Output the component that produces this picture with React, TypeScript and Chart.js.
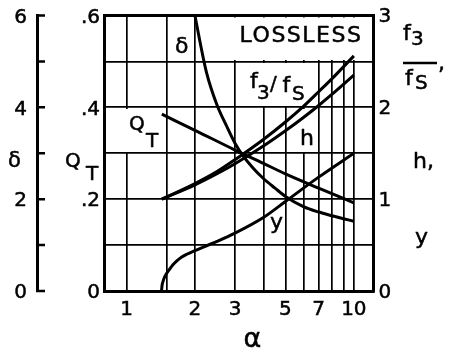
import React, { useEffect, useRef } from "react";
import { Chart, registerables } from "chart.js";

Chart.register(...registerables);

// α grid positions (log axis) and which of them carry a number
const ALPHA_GRID = [1, 1.5, 2, 3, 4, 5, 6, 7, 8, 9, 10];
const ALPHA_LABELS = [1, 2, 3, 5, 7, 10];

// f3/fS versus α (right axis)
const F3_ALPHA = [1.43, 2, 2.5, 3, 4, 5, 6, 7, 8, 10];
const F3_FS = [1.0, 1.17, 1.3, 1.43, 1.65, 1.84, 2.01, 2.17, 2.31, 2.56];

// h versus α (right axis)
const H_ALPHA = [1.43, 2, 2.5, 3, 4, 5, 6, 7, 8, 10];
const H = [1.0, 1.156, 1.277, 1.386, 1.579, 1.745, 1.89, 2.02, 2.14, 2.35];

// y versus α (right axis)
const Y_ALPHA = [1.425, 1.435, 1.45, 1.47, 1.5, 1.55, 1.6, 1.66, 1.75, 1.84, 2, 2.5, 3, 4, 5, 7, 10];
const Y = [0, 0.07, 0.11, 0.15, 0.19, 0.24, 0.285, 0.325, 0.37, 0.4, 0.44, 0.54, 0.63, 0.8, 0.975, 1.24, 1.5];

// Q_T versus α (inner left axis)
const QT_ALPHA = [1.43, 2, 3, 4, 5, 7, 10];
const QT = [0.385, 0.35, 0.307, 0.278, 0.255, 0.224, 0.192];

// δ versus α (outer left axis)
const DELTA_ALPHA = [2.0, 2.1, 2.25, 2.5, 2.75, 3.0, 3.25, 3.6, 4.0, 4.5, 5.0, 6.0, 7.0, 8.0, 9.0, 10];
const DELTA = [6.0, 5.45, 4.75, 4.05, 3.6, 3.22, 2.95, 2.68, 2.45, 2.24, 2.06, 1.84, 1.72, 1.64, 1.575, 1.52];

const FONT = '"DejaVu Sans", sans-serif';
const TEXT_STROKE = 0.5;

const pts = (xs: number[], ys: number[]) => xs.map((x, i) => ({ x, y: ys[i] }));

function put(
  ctx: CanvasRenderingContext2D,
  s: string,
  x: number,
  y: number,
  size: number,
  align: CanvasTextAlign = "left",
  baseline: CanvasTextBaseline = "alphabetic",
  spacing = 0
) {
  ctx.save();
  ctx.font = `${size}px ${FONT}`;
  ctx.fillStyle = "#000";
  ctx.strokeStyle = "#000";
  ctx.lineWidth = TEXT_STROKE;
  ctx.lineJoin = "round";
  ctx.textAlign = align;
  ctx.textBaseline = baseline;
  if (spacing) (ctx as any).letterSpacing = `${spacing}px`;
  ctx.strokeText(s, x, y);
  ctx.fillText(s, x, y);
  ctx.restore();
}

const decor = {
  id: "decor",
  beforeDatasetsDraw(chart: any) {
    // white panels behind the in-plot labels hide the grid there
    const ctx: CanvasRenderingContext2D = chart.ctx;
    ctx.save();
    ctx.fillStyle = "#fff";
    ctx.fillRect(197, 17.5, 174.5, 42.5);
    ctx.fillRect(240, 63, 74, 43);
    ctx.fillRect(296, 109, 18, 43);
    ctx.fillRect(120, 109, 40, 43);
    ctx.restore();
  },
  afterDraw(chart: any) {
    const ctx: CanvasRenderingContext2D = chart.ctx;
    const yD = chart.scales.yD;

    // inward tick marks of the δ axis
    ctx.save();
    ctx.strokeStyle = "#000";
    ctx.lineWidth = 2.5;
    ctx.beginPath();
    for (const t of yD.ticks) {
      const py = yD.getPixelForValue(t.value);
      ctx.moveTo(yD.right - 1, py);
      ctx.lineTo(yD.right + 8, py);
    }
    ctx.stroke();
    ctx.restore();

    // axis titles on the left
    put(ctx, "δ", 8, 167, 21);
    put(ctx, "Q", 65, 167, 20);
    put(ctx, "T", 86, 180, 20);

    // α under the x axis
    put(ctx, "α", 252.5, 346.5, 27, "center");

    // right-hand title: f3/fS , h , y
    put(ctx, "f", 403, 40, 22);
    put(ctx, "3", 411, 45, 20);
    ctx.save();
    ctx.strokeStyle = "#000";
    ctx.lineWidth = 2.5;
    ctx.beginPath();
    ctx.moveTo(403, 63);
    ctx.lineTo(437, 63);
    ctx.stroke();
    ctx.restore();
    put(ctx, "f", 405, 84.5, 22);
    put(ctx, "S", 415, 89, 20);
    put(ctx, ",", 438, 70, 22);
    put(ctx, "h,", 413, 168, 22);
    put(ctx, "y", 415, 244, 22);

    // in-plot labels
    put(ctx, "LOSSLESS", 301, 36, 22, "center", "middle", 1.5);
    put(ctx, "δ", 181.7, 53.3, 22, "center");
    put(ctx, "Q", 129, 129.5, 20);
    put(ctx, "T", 146, 147, 20);
    put(ctx, "f", 250, 88, 22);
    put(ctx, "3", 257, 98.5, 20);
    put(ctx, "/", 270, 90, 20);
    put(ctx, "f", 282.5, 91.5, 22);
    put(ctx, "S", 292, 100, 20);
    put(ctx, "h", 300, 145, 22);
    put(ctx, "y", 270, 228.7, 22);
  },
};

const lineStyle = {
  borderColor: "#000",
  borderWidth: 3,
  pointRadius: 0,
  fill: false,
  cubicInterpolationMode: "monotone" as const,
};

const tickFont = { size: 20 };
const tickStroke = { textStrokeColor: "#000", textStrokeWidth: TEXT_STROKE };

export default function App() {
  const ref = useRef<HTMLCanvasElement>(null);

  useEffect(() => {
    Chart.defaults.font.family = FONT;
    Chart.defaults.color = "#000";

    const chart = new Chart(ref.current as HTMLCanvasElement, {
      type: "line",
      data: {
        datasets: [
          { label: "f3/fS", data: pts(F3_ALPHA, F3_FS), yAxisID: "yR", ...lineStyle },
          { label: "h", data: pts(H_ALPHA, H), yAxisID: "yR", ...lineStyle },
          { label: "y", data: pts(Y_ALPHA, Y), yAxisID: "yR", ...lineStyle },
          { label: "QT", data: pts(QT_ALPHA, QT), yAxisID: "yQ", ...lineStyle },
          { label: "δ", data: pts(DELTA_ALPHA, DELTA), yAxisID: "yD", ...lineStyle },
        ] as any,
      },
      options: {
        responsive: false,
        animation: false,
        devicePixelRatio: 1,
        layout: { padding: { top: 15.5, left: 0, right: 0, bottom: 0 } },
        plugins: { legend: { display: false }, tooltip: { enabled: false } },
        scales: {
          x: {
            type: "logarithmic",
            position: "bottom",
            min: 0.8,
            max: 12.2,
            afterBuildTicks: (s: any) => {
              s.ticks = ALPHA_GRID.map((v) => ({ value: v }));
            },
            afterFit: (s: any) => {
              s.height = 60;
              s.paddingLeft = 0;
              s.paddingRight = 0;
            },
            grid: { color: "#000", lineWidth: 1.7, drawTicks: false },
            border: { color: "#000", width: 3 },
            ticks: {
              autoSkip: false,
              maxRotation: 0,
              padding: 7,
              color: "#000",
              font: tickFont,
              ...tickStroke,
              callback: (v: any) => (ALPHA_LABELS.includes(Number(v)) ? String(v) : ""),
            },
          },
          yR: {
            position: "right",
            min: 0,
            max: 3,
            afterFit: (s: any) => {
              s.width = 76.5;
              s.paddingTop = 0;
              s.paddingBottom = 0;
            },
            grid: {
              color: "#000",
              lineWidth: (c: any) => (c.tick && c.tick.value === 3 ? 3 : 1.7),
              drawTicks: false,
            },
            border: { color: "#000", width: 3 },
            ticks: {
              stepSize: 0.5,
              autoSkip: false,
              padding: 5,
              labelOffset: 1.5,
              color: "#000",
              font: tickFont,
              ...tickStroke,
              callback: (v: any) => (Number.isInteger(Number(v)) ? String(v) : ""),
            },
          },
          yQ: {
            position: "left",
            weight: 0,
            min: 0,
            max: 0.6,
            afterFit: (s: any) => {
              s.width = 67.5;
              s.paddingTop = 0;
              s.paddingBottom = 0;
            },
            grid: { drawOnChartArea: false, drawTicks: false },
            border: { color: "#000", width: 3 },
            ticks: {
              stepSize: 0.1,
              autoSkip: false,
              padding: 4.5,
              labelOffset: 2,
              color: "#000",
              font: tickFont,
              ...tickStroke,
              callback: (v: any) => {
                const k = Math.round(Number(v) * 10);
                if (k === 0) return "0";
                return k % 2 === 0 ? "." + k : "";
              },
            },
          },
          yD: {
            position: "left",
            weight: 10,
            min: 0,
            max: 6,
            afterFit: (s: any) => {
              s.width = 37;
              s.paddingTop = 0;
              s.paddingBottom = 0;
            },
            grid: { drawOnChartArea: false, drawTicks: false },
            border: { color: "#000", width: 3 },
            ticks: {
              stepSize: 1,
              autoSkip: false,
              padding: 10,
              labelOffset: 2,
              color: "#000",
              font: tickFont,
              ...tickStroke,
              callback: (v: any) => (Number(v) % 2 === 0 ? String(v) : ""),
            },
          },
        } as any,
      },
      plugins: [decor],
    });

    return () => chart.destroy();
  }, []);

  return (
    <div style={{ position: "absolute", left: 0, top: 0, width: 450, height: 351, background: "#fff" }}>
      <canvas ref={ref} width={450} height={351} style={{ display: "block" }} />
    </div>
  );
}
